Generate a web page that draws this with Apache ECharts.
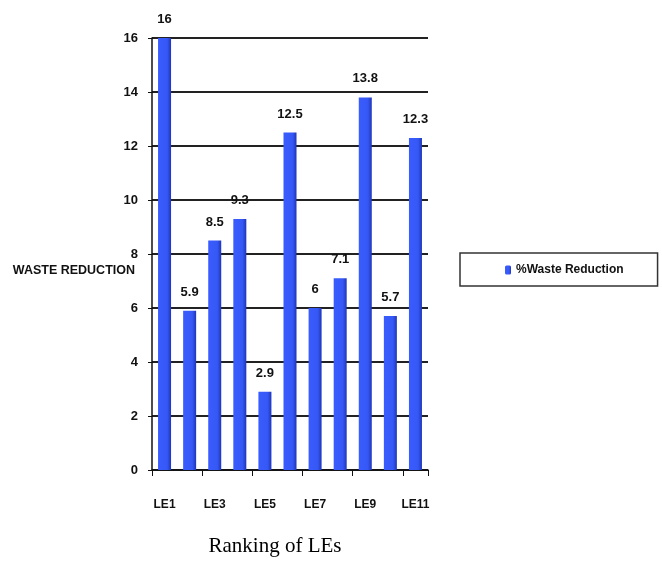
<!DOCTYPE html>
<html>
<head>
<meta charset="utf-8">
<script src="https://cdn.jsdelivr.net/npm/echarts@6/dist/echarts.min.js"></script>
<style>
  html, body { margin: 0; padding: 0; background: #fff; }
  #chart { width: 662px; height: 561px; }
</style>
</head>
<body>
<div id="chart"></div>
<script>
// Waste reduction per ranked LE
const categories = ['LE1','LE2','LE3','LE4','LE5','LE6','LE7','LE8','LE9','LE10','LE11'];
const wasteReduction = [16, 5.9, 8.5, 9.3, 2.9, 12.5, 6, 7.1, 13.8, 5.7, 12.3];
const yTicks = [0, 2, 4, 6, 8, 10, 12, 14, 16];

const sans = '"Liberation Sans", Arial, sans-serif';

const chart = echarts.init(document.getElementById('chart'));
chart.setOption({
  animation: false,
  grid: { left: 152, top: 38, width: 276, height: 432, outerBoundsMode: 'none', containLabel: false },
  legend: {
    data: ['%Waste Reduction'],
    left: 460, top: 253,
    padding: [11, 34, 10, 45],
    itemWidth: 6, itemHeight: 9,
    itemGap: 4,
    borderColor: '#333', borderWidth: 1.5,
    textStyle: { fontFamily: sans, fontWeight: 'bold', fontSize: 12, color: '#111' }
  },
  xAxis: {
    type: 'category',
    data: categories,
    name: 'Ranking of LEs',
    nameLocation: 'middle',
    nameGap: 66,
    nameTextStyle: { fontFamily: '"Liberation Serif", "DejaVu Serif", serif', fontSize: 21, color: '#000', padding: [0, 30, 0, 0] },
    axisLine: { lineStyle: { color: '#111', width: 1.5 } },
    axisTick: { show: true, alignWithLabel: false, length: 6, lineStyle: { color: '#111' } },
    axisLabel: {
      interval: 1, margin: 29,
      fontFamily: sans, fontWeight: 'bold', fontSize: 12, color: '#111'
    }
  },
  yAxis: {
    type: 'value',
    min: yTicks[0], max: yTicks[yTicks.length - 1], interval: 2,
    name: 'WASTE REDUCTION',
    nameLocation: 'middle',
    nameRotate: 0,
    nameGap: 17,
    nameMoveOverlap: false,
    nameTextStyle: { fontFamily: sans, fontWeight: 'bold', fontSize: 12.5, color: '#111', verticalAlign: 'top', lineHeight: 34 },
    axisLine: { show: true, lineStyle: { color: '#111', width: 1.5 } },
    axisTick: { show: true, length: 4, lineStyle: { color: '#111' } },
    axisLabel: { margin: 14, fontFamily: sans, fontWeight: 'bold', fontSize: 13, color: '#111' },
    splitLine: { lineStyle: { color: '#222', width: 2 } }
  },
  series: [{
    name: '%Waste Reduction',
    type: 'bar',
    data: wasteReduction,
    barWidth: 13,
    itemStyle: {
      color: new echarts.graphic.LinearGradient(0, 0, 1, 0, [
        { offset: 0, color: '#3a5cff' },
        { offset: 0.7, color: '#3558f5' },
        { offset: 1, color: '#1f35b8' }
      ])
    },
    label: {
      show: true, position: 'top', distance: 12,
      fontFamily: sans, fontWeight: 'bold', fontSize: 13, color: '#111'
    }
  }]
});
</script>
</body>
</html>
